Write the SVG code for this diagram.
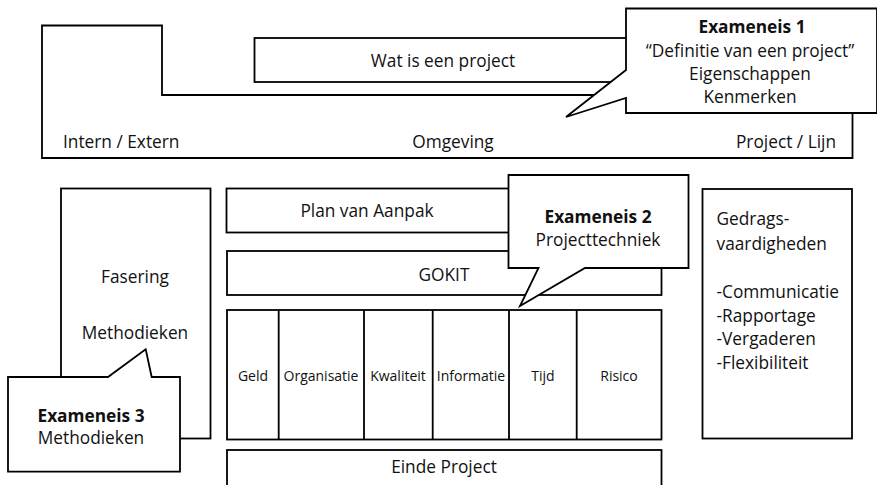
<svg xmlns="http://www.w3.org/2000/svg" width="877" height="485" viewBox="0 0 877 485">
<style>
.s{fill:#fff;stroke:#000;stroke-width:1.8;stroke-linejoin:miter}
text{font-family:"Open Sans","Noto Sans","DejaVu Sans",sans-serif;font-size:17.3px;fill:#111;dominant-baseline:central}
.c{text-anchor:middle}
.b{font-weight:bold}
.sm{font-size:14px}
</style>
<rect width="877" height="485" fill="#fff"/>
<g id="omgeving">
<path class="s" d="M42,25.5 H162 V95 H852.5 V158 H42 Z"/>
<text x="63" y="141">Intern / Extern</text>
<text class="c" x="453" y="141">Omgeving</text>
<text x="836" y="141" text-anchor="end">Project / Lijn</text>
</g>
<g id="wat-is-een-project">
<rect class="s" x="254.5" y="38" width="400" height="44"/>
<text class="c" x="443" y="60">Wat is een project</text>
</g>
<g id="exameneis1">
<path class="s" d="M626,8.5 H877 V113 H626 V98 L566,117 L626,70 Z"/>
<text class="c b" x="752" y="26">Exameneis 1</text>
<text class="c" x="750" y="50">“Definitie van een project”</text>
<text class="c" x="750" y="73">Eigenschappen</text>
<text class="c" x="750" y="96">Kenmerken</text>
</g>
<g id="fasering">
<rect class="s" x="61" y="188.5" width="149.5" height="250"/>
<text class="c" x="135" y="276">Fasering</text>
<text class="c" x="135" y="332">Methodieken</text>
</g>
<g id="plan-van-aanpak">
<rect class="s" x="226.5" y="188.5" width="435" height="44"/>
<text class="c" x="367" y="210">Plan van Aanpak</text>
</g>
<g id="gokit">
<rect class="s" x="227" y="251" width="434.5" height="44"/>
<text class="c" x="444" y="274">GOKIT</text>
</g>
<g id="gokit-table">
<rect class="s" x="227" y="310" width="434.5" height="129.5"/>
<path fill="none" stroke="#000" stroke-width="1.8" d="M278.7,310 V439.5 M364,310 V439.5 M432.7,310 V439.5 M509,310 V439.5 M576.7,310 V439.5"/>
<text class="c sm" x="253" y="375">Geld</text>
<text class="c sm" x="321" y="375">Organisatie</text>
<text class="c sm" x="398" y="375">Kwaliteit</text>
<text class="c sm" x="471" y="375">Informatie</text>
<text class="c sm" x="543" y="375">Tijd</text>
<text class="c sm" x="619" y="375">Risico</text>
</g>
<g id="einde-project">
<rect class="s" x="227" y="450" width="434.5" height="45"/>
<text class="c" x="444" y="466">Einde Project</text>
</g>
<g id="exameneis2">
<path class="s" d="M508.5,175 H688.5 V268 H585 L520,306 L538.5,268 H508.5 Z"/>
<text class="c b" x="598" y="216">Exameneis 2</text>
<text class="c" x="598" y="239">Projecttechniek</text>
</g>
<g id="gedragsvaardigheden">
<rect class="s" x="702.5" y="189" width="149.5" height="249.5"/>
<text x="716.5" y="218">Gedrags-</text>
<text x="716.5" y="243">vaardigheden</text>
<text x="716.5" y="291">-Communicatie</text>
<text x="716.5" y="315">-Rapportage</text>
<text x="716.5" y="338">-Vergaderen</text>
<text x="716.5" y="362">-Flexibiliteit</text>
</g>
<g id="exameneis3">
<path class="s" d="M8,377 H108 L145.7,349.3 L151.7,377 H180 V471.7 H8 Z"/>
<text class="c b" x="91" y="415">Exameneis 3</text>
<text class="c" x="91" y="437">Methodieken</text>
</g>
<g id="connectors"/>
</svg>
